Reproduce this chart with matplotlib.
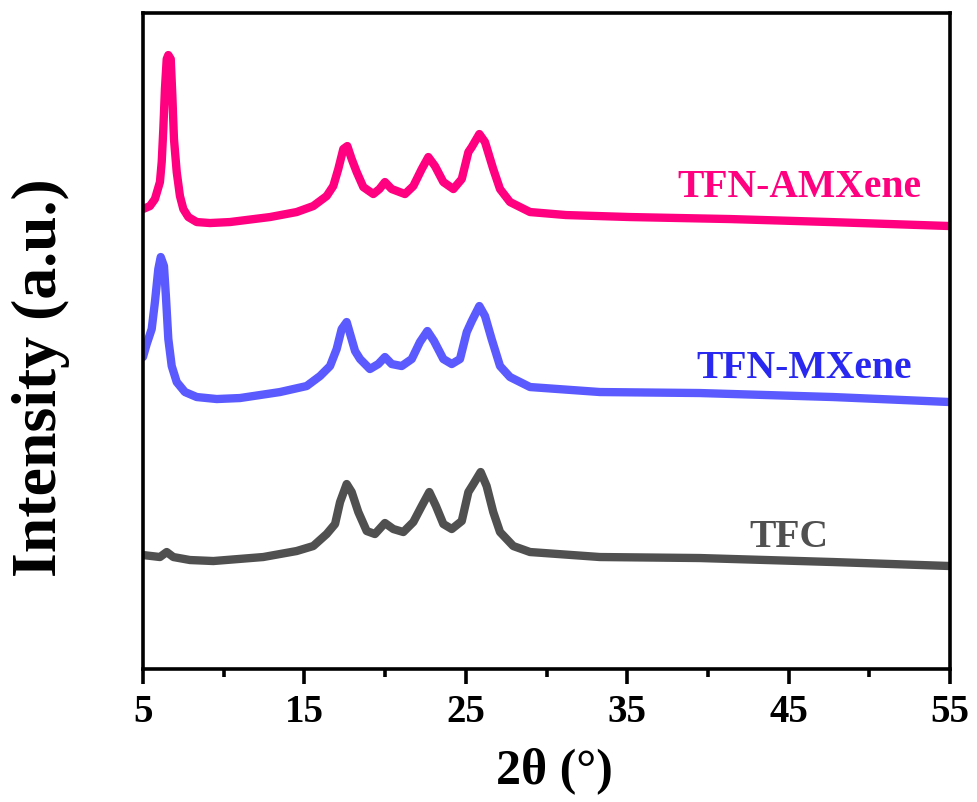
import matplotlib
matplotlib.use("Agg")
import matplotlib.pyplot as plt

plt.rcParams['font.family'] = ['Liberation Serif', 'DejaVu Serif']
plt.rcParams['font.weight'] = 'bold'

# XRD patterns, 2theta in degrees, intensity in arbitrary units (curves already offset)
two_theta_amx = [5.0, 5.43, 5.74, 6.05, 6.16, 6.26, 6.36, 6.47, 6.57, 6.72, 6.82, 6.92,
                 7.09, 7.29, 7.50, 7.81, 8.33, 9.15, 10.39, 12.87, 14.52, 15.55, 16.38,
                 16.79, 17.10, 17.41, 17.66, 17.93, 18.24, 18.65, 19.27, 19.65, 19.99,
                 20.41, 21.23, 21.75, 22.27, 22.68, 23.09, 23.61, 24.23, 24.75, 25.16,
                 25.37, 25.84, 26.19, 26.70, 27.12, 27.74, 28.98, 31.2, 35.17, 41.37,
                 47.57, 55.0]
int_amx = [460, 463, 470, 487, 507, 540, 580, 610, 614, 610, 573, 530,
           497, 473, 460, 452, 447, 446, 447, 452, 457, 463, 473,
           483, 500, 520, 523, 510, 497, 482, 475, 480, 487,
           480, 475, 483, 500, 512, 503, 487, 480, 490, 517,
           522, 535, 527, 500, 480, 467, 457, 454, 452, 450,
           447, 443]

two_theta_mx = [5.0, 5.23, 5.54, 5.74, 5.95, 6.10, 6.30, 6.42, 6.57, 6.78, 7.09, 7.60,
                8.33, 9.57, 11.01, 13.49, 15.14, 15.97, 16.59, 17.00, 17.31, 17.62,
                17.87, 18.14, 18.45, 19.06, 19.58, 19.99, 20.41, 21.03, 21.65, 22.16,
                22.62, 23.03, 23.61, 24.13, 24.64, 25.06, 25.37, 25.84, 26.19, 26.60,
                27.12, 27.74, 28.98, 33.31, 39.5, 47.75, 55.0]
int_mx = [312, 325, 340, 367, 400, 412, 403, 373, 330, 303, 287, 277,
          272, 270, 271, 277, 283, 293, 303, 320, 340, 347,
          333, 318, 310, 300, 305, 312, 305, 303, 310, 327,
          338, 328, 310, 305, 310, 337, 348, 363, 353, 330,
          303, 292, 282, 277, 276, 272, 267]

two_theta_tfc = [5.0, 6.05, 6.47, 6.88, 7.91, 9.36, 12.45, 14.52, 15.55, 16.38, 16.90,
                 17.21, 17.62, 17.93, 18.34, 18.86, 19.37, 19.99, 20.51, 21.13, 21.75,
                 22.27, 22.74, 23.15, 23.61, 24.13, 24.75, 25.16, 25.47, 25.92, 26.29,
                 26.70, 27.12, 27.94, 28.98, 33.31, 39.5, 47.75, 55.0]
int_tfc = [114, 112, 117, 112, 109, 108, 112, 118, 123, 135, 145,
           167, 185, 177, 157, 138, 135, 146, 140, 137, 147,
           163, 177, 163, 145, 140, 148, 177, 185, 197, 183,
           157, 137, 123, 117, 112, 111, 107, 103]

major_ticks = [5, 15, 25, 35, 45, 55]
minor_ticks = [10, 20, 30, 40, 50]

series = [
    (two_theta_tfc, int_tfc, '#505050'),
    (two_theta_mx, int_mx, '#5A5AFF'),
    (two_theta_amx, int_amx, '#FF0080'),
]

fig = plt.figure(figsize=(9.78, 8.03), dpi=100)
ax = fig.add_axes([0.1462, 0.1656, 0.8252, 0.8169])

for x, y, c in series:
    ax.plot(x, y, color=c, lw=6, solid_joinstyle='round', solid_capstyle='round')

ax.text(45.68, 473, 'TFN-AMXene', color='#FF0080', fontsize=28.5,
        fontweight='bold', ha='center', va='baseline')
ax.text(45.95, 292, 'TFN-MXene', color='#2828F0', fontsize=28.5,
        fontweight='bold', ha='center', va='baseline')
ax.text(45.02, 123, 'TFC', color='#505050', fontsize=28.5,
        fontweight='bold', ha='center', va='baseline')

ax.set_xlim(5, 55)
ax.set_ylim(0, 656)
ax.set_xticks(major_ticks)
ax.set_xticks(minor_ticks, minor=True)
ax.tick_params(axis='x', which='major', direction='out', length=11, width=2.6,
               labelsize=28, pad=6)
ax.tick_params(axis='x', which='minor', direction='out', length=5.5, width=2.6)
ax.set_yticks([])
for s in ax.spines.values():
    s.set_linewidth(2.6)

ax.set_xlabel('2θ (°)', fontsize=36, fontweight='bold')
ax.xaxis.set_label_coords(0.51, -0.118)
ax.set_ylabel('Intensity (a.u.)', fontsize=46, fontweight='bold')
ax.yaxis.set_label_coords(-0.09, 0.445)

fig.savefig('out.png', dpi=100)
